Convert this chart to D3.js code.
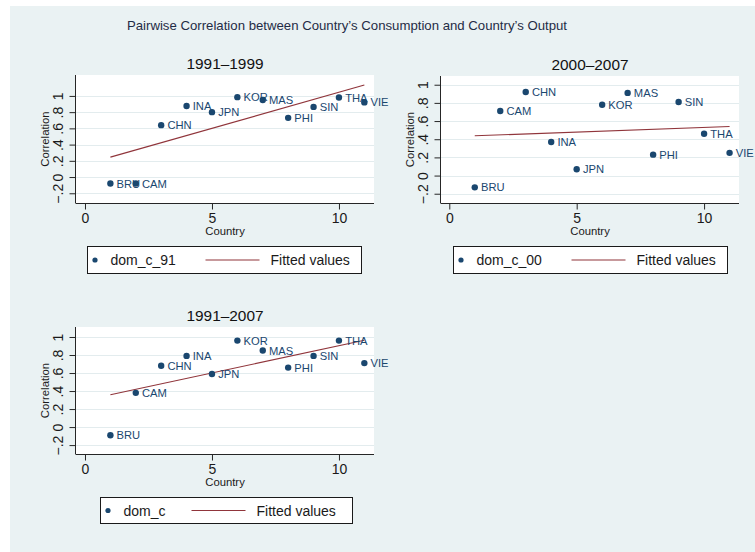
<!DOCTYPE html>
<html>
<head>
<meta charset="utf-8">
<script src="https://cdn.jsdelivr.net/npm/d3@7/dist/d3.min.js"></script>
<style>
  html, body { margin: 0; padding: 0; background: #ffffff; }
  svg { display: block; }
  text { font-family: "Liberation Sans", Arial, Helvetica, sans-serif; }
</style>
</head>
<body>
<svg id="chart" width="755" height="552"></svg>
<script>
// Countries, plotted along x by their index (1..11)
const countries = ["BRU", "CAM", "CHN", "INA", "JPN", "KOR", "MAS", "PHI", "SIN", "THA", "VIE"];

// Correlation of consumption with output, by period
const dom_c_91 = [-0.08, -0.08, 0.64, 0.875, 0.80, 0.985, 0.95, 0.73, 0.865, 0.98, 0.92];
const dom_c_00 = [-0.13, 0.71, 0.92, 0.37, 0.07, 0.78, 0.91, 0.23, 0.81, 0.46, 0.25];
const dom_c    = [-0.09, 0.38, 0.68, 0.79, 0.59, 0.96, 0.85, 0.66, 0.79, 0.96, 0.71];

const periods = ["1991\u20131999", "2000\u20132007", "1991\u20132007"];
const seriesNames = ["dom_c_91", "dom_c_00", "dom_c"];

const yTicks = [-0.2, 0, 0.2, 0.4, 0.6, 0.8, 1];
const yTickLabels = ["\u2212.2", "0", ".2", ".4", ".6", ".8", "1"];
const xTicks = [0, 5, 10];
const xTickLabels = ["0", "5", "10"];

const mainTitle = "Pairwise Correlation between Country\u2019s Consumption and Country\u2019s Output";

const BG = "#eaf2f3";
const NAVY = "#1a476f";
const FIT = "#90353b";
const AXIS = "#262626";

// Panel frames and axis ranges
const panels = [
  { values: dom_c_91, title: periods[0], name: seriesNames[0],
    box: { x0: 76, x1: 374, y0: 75, y1: 203 }, xDom: [-0.354, 11.38], yDom: [-0.320, 1.258],
    legend: { x0: 87, x1: 361, y0: 246, y1: 273 } },
  { values: dom_c_00, title: periods[1], name: seriesNames[1],
    box: { x0: 441, x1: 739, y0: 76, y1: 203 }, xDom: [-0.325, 11.37], yDom: [-0.302, 1.096],
    legend: { x0: 453, x1: 727, y0: 246, y1: 273 } },
  { values: dom_c, title: periods[2], name: seriesNames[2],
    box: { x0: 76, x1: 374, y0: 327, y1: 454 }, xDom: [-0.354, 11.38], yDom: [-0.299, 1.111],
    legend: { x0: 100, x1: 352, y0: 497, y1: 523 } }
];

const svg = d3.select("#chart");

// Graph background
svg.append("rect").attr("x", 10).attr("y", 6).attr("width", 745).attr("height", 546).attr("fill", BG);

svg.append("text")
  .attr("x", 347).attr("y", 30)
  .attr("text-anchor", "middle")
  .attr("font-size", 13.2)
  .attr("fill", "#1f2c45")
  .text(mainTitle);

// Least-squares line of y on x
function fitLine(xs, ys) {
  const n = xs.length;
  const mx = d3.mean(xs), my = d3.mean(ys);
  let sxy = 0, sxx = 0;
  for (let i = 0; i < n; i++) { sxy += (xs[i] - mx) * (ys[i] - my); sxx += (xs[i] - mx) ** 2; }
  const b = sxy / sxx, a = my - b * mx;
  return x => a + b * x;
}

panels.forEach(p => {
  const xs = countries.map((c, i) => i + 1);
  const b = p.box;
  const x = d3.scaleLinear().domain(p.xDom).range([b.x0, b.x1]);
  const y = d3.scaleLinear().domain(p.yDom).range([b.y1, b.y0]);
  const g = svg.append("g");

  // Plot region
  g.append("rect").attr("x", b.x0).attr("y", b.y0)
    .attr("width", b.x1 - b.x0).attr("height", b.y1 - b.y0).attr("fill", "#ffffff");

  // Horizontal grid
  g.selectAll(".grid").data(yTicks).enter().append("line")
    .attr("x1", b.x0).attr("x2", b.x1)
    .attr("y1", d => Math.round(y(d)) + 0.5).attr("y2", d => Math.round(y(d)) + 0.5)
    .attr("stroke", "#e3ecee").attr("stroke-width", 1);

  // Y axis
  const yAxis = d3.axisLeft(y).tickValues(yTicks).tickSize(6)
    .tickFormat((d, i) => yTickLabels[i]);
  const ya = g.append("g").attr("transform", `translate(${b.x0 - 0.5},0)`).call(yAxis);
  ya.select(".domain").attr("stroke", AXIS).attr("d", `M-6,${b.y1}V${b.y0}`).attr("d", `M0,${b.y1}V${b.y0}`);
  ya.selectAll(".tick line").attr("stroke", AXIS);
  ya.selectAll(".tick text")
    .attr("x", null).attr("dy", null)
    .attr("transform", "translate(-13,0) rotate(-90)")
    .attr("text-anchor", "middle")
    .attr("font-size", 14).attr("fill", "#1a1a1a")
    .attr("font-family", "Liberation Sans, Arial, sans-serif");

  // X axis
  const xAxis = d3.axisBottom(x).tickValues(xTicks).tickSize(6)
    .tickFormat((d, i) => xTickLabels[i]);
  const xa = g.append("g").attr("transform", `translate(0,${b.y1 + 0.5})`).call(xAxis);
  xa.select(".domain").attr("stroke", AXIS).attr("d", `M${b.x0 - 0.5},0H${b.x1}`);
  xa.selectAll(".tick line").attr("stroke", AXIS);
  xa.selectAll(".tick text")
    .attr("y", 19).attr("dy", null)
    .attr("font-size", 14).attr("fill", "#1a1a1a")
    .attr("font-family", "Liberation Sans, Arial, sans-serif");

  // Axis titles
  g.append("text")
    .attr("x", (b.x0 + b.x1) / 2).attr("y", b.y1 + 32)
    .attr("text-anchor", "middle").attr("font-size", 11.3).attr("fill", "#1a1a1a")
    .text("Country");
  g.append("text")
    .attr("transform", `translate(${b.x0 - 27.5},${(b.y0 + b.y1) / 2}) rotate(-90)`)
    .attr("text-anchor", "middle").attr("font-size", 11.3).attr("fill", "#1a1a1a")
    .text("Correlation");

  // Panel title
  g.append("text")
    .attr("x", (b.x0 + b.x1) / 2).attr("y", b.y0 - 6.5)
    .attr("text-anchor", "middle").attr("font-size", 15.4).attr("fill", "#111111")
    .text(p.title);

  // Fitted values
  const f = fitLine(xs, p.values);
  g.append("line")
    .attr("x1", x(1)).attr("y1", y(f(1)))
    .attr("x2", x(11)).attr("y2", y(f(11)))
    .attr("stroke", FIT).attr("stroke-width", 1.1);

  // Points and their country labels
  const pts = countries.map((c, i) => ({ c, x: xs[i], v: p.values[i] }));
  g.selectAll(".pt").data(pts).enter().append("circle")
    .attr("cx", d => x(d.x)).attr("cy", d => y(d.v)).attr("r", 3.2)
    .attr("fill", NAVY);
  g.selectAll(".lbl").data(pts).enter().append("text")
    .attr("x", d => x(d.x) + 6.2).attr("y", d => y(d.v)).attr("dy", "0.36em")
    .attr("font-size", 11.2).attr("fill", NAVY)
    .text(d => d.c);

  // Legend
  const L = p.legend;
  const lg = svg.append("g");
  lg.append("rect").attr("x", L.x0 + 0.5).attr("y", L.y0 + 0.5)
    .attr("width", L.x1 - L.x0).attr("height", L.y1 - L.y0)
    .attr("fill", "#ffffff").attr("stroke", "#1a1a1a").attr("stroke-width", 1);
  const cy = (L.y0 + L.y1) / 2 + 0.5;
  const span = L.x1 - L.x0;
  lg.append("circle").attr("cx", L.x0 + 8).attr("cy", cy).attr("r", 2.6).attr("fill", NAVY);
  lg.append("text").attr("x", L.x0 + 23.5).attr("y", cy + 5).attr("font-size", 14).attr("fill", "#1a1a1a")
    .text(p.name);
  const lineX0 = L.x0 + (span === 252 ? 91.5 : 118.5);
  lg.append("line").attr("x1", lineX0).attr("x2", lineX0 + 54)
    .attr("y1", cy).attr("y2", cy).attr("stroke", FIT).attr("stroke-width", 1.1);
  lg.append("text").attr("x", lineX0 + 65).attr("y", cy + 5).attr("font-size", 14).attr("fill", "#1a1a1a")
    .text("Fitted values");
});
</script>
</body>
</html>
